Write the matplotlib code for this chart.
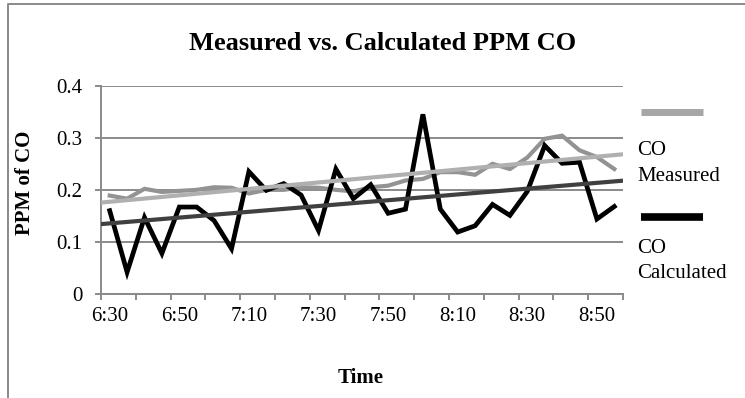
import numpy as np
import matplotlib
matplotlib.use('Agg')
import matplotlib.pyplot as plt
from matplotlib.lines import Line2D

plt.rcParams['font.family'] = ['Liberation Serif', 'DejaVu Serif']

# 5-minute readings from 6:30 to 8:55
times = ['6:30', '6:35', '6:40', '6:45', '6:50', '6:55', '7:00', '7:05', '7:10', '7:15',
         '7:20', '7:25', '7:30', '7:35', '7:40', '7:45', '7:50', '7:55', '8:00', '8:05',
         '8:10', '8:15', '8:20', '8:25', '8:30', '8:35', '8:40', '8:45', '8:50', '8:55']
co_measured = [0.189, 0.183, 0.202, 0.196, 0.198, 0.200, 0.205, 0.204, 0.193, 0.200,
               0.200, 0.205, 0.204, 0.200, 0.197, 0.205, 0.208, 0.218, 0.221, 0.234,
               0.234, 0.229, 0.250, 0.240, 0.262, 0.298, 0.304, 0.276, 0.263, 0.240]
co_calculated = [0.160, 0.042, 0.147, 0.078, 0.167, 0.167, 0.141, 0.087, 0.235, 0.199,
                 0.212, 0.190, 0.122, 0.240, 0.183, 0.210, 0.155, 0.163, 0.345, 0.163,
                 0.119, 0.131, 0.172, 0.151, 0.197, 0.285, 0.251, 0.253, 0.144, 0.168]
y_ticks = [0, 0.1, 0.2, 0.3, 0.4]
y_ticklabels = ['0', '0.1', '0.2', '0.3', '0.4']

W, H = 745, 398
fig = plt.figure(figsize=(W / 100, H / 100), dpi=100)

def fx(px):
    return px / W

def fy(py):
    return 1 - py / H

ax = fig.add_axes([fx(101), fy(294), fx(623) - fx(101), fy(85.7) - fy(294)])

x = np.arange(len(times))
grey_axis = '#8a8a8a'

# series
ax.plot(x, co_measured, color='#939393', lw=3.0, solid_joinstyle='miter', zorder=3)
ax.plot(x, co_calculated, color='black', lw=3.4, solid_joinstyle='miter', zorder=4)

# linear trendlines (like the spreadsheet ones)
xe = np.array([-0.5, len(times) - 0.5])
p1 = np.polyfit(x, co_measured, 1)
p2 = np.polyfit(x, co_calculated, 1)
ax.plot(xe, np.polyval(p1, xe), color='#b0b0b0', lw=3.0, zorder=5, solid_capstyle='butt')
ax.plot(xe, np.polyval(p2, xe), color='#404040', lw=3.0, zorder=5, solid_capstyle='butt')

ax.set_xlim(-0.5, len(times) - 0.5)
ax.set_ylim(0, 0.4)
ax.set_yticks(y_ticks)
ax.set_yticklabels(y_ticklabels)
ax.grid(axis='y', color=grey_axis, lw=1.4)
ax.set_axisbelow(True)

ax.set_xticks(np.arange(-0.5, len(times), 2))
ax.set_xticklabels([])
lab_idx = np.arange(0, len(times), 4)
ax.set_xticks(lab_idx, minor=True)
ax.set_xticklabels([times[i] for i in lab_idx], minor=True)

ax.tick_params(axis='x', which='major', length=4, width=1.4, color=grey_axis, direction='out')
ax.tick_params(axis='x', which='minor', length=0, pad=9.5, labelsize=15)
ax.tick_params(axis='y', length=4, width=1.4, color=grey_axis, pad=9.5, labelsize=15)

for s in ['top', 'right']:
    ax.spines[s].set_visible(False)
for s in ['left', 'bottom']:
    ax.spines[s].set_color(grey_axis)
    ax.spines[s].set_linewidth(1.4)

# titles
fig.text(fx(383), fy(50), 'Measured vs. Calculated PPM CO', ha='center', va='baseline',
         fontsize=19, fontweight='bold')
fig.text(fx(361), fy(382.7), 'Time', ha='center', va='baseline', fontsize=15, fontweight='bold')
fig.text(fx(25), fy(183), 'PPM of CO', ha='center', va='center', rotation=90,
         fontsize=15, fontweight='bold')

# legend
fig.add_artist(Line2D([fx(641), fx(703)], [fy(112.3), fy(112.3)], color='#a6a6a6', lw=5.0,
                      solid_capstyle='butt'))
fig.add_artist(Line2D([fx(641), fx(703)], [fy(216.7), fy(216.7)], color='black', lw=5.5,
                      solid_capstyle='butt'))
fig.text(fx(637.3), fy(155), 'CO', va='baseline', fontsize=15)
fig.text(fx(637.3), fy(180.7), 'Measured', va='baseline', fontsize=15)
fig.text(fx(637.3), fy(253.3), 'CO', va='baseline', fontsize=15)
fig.text(fx(637.3), fy(278.3), 'Calculated', va='baseline', fontsize=15)

# chart border (cut off at right/bottom)
fig.add_artist(Line2D([fx(8.3), fx(8.3), fx(760)], [fy(420), fy(3.5), fy(3.5)],
                      color=grey_axis, lw=1.4))

fig.savefig('out.png', dpi=100)
